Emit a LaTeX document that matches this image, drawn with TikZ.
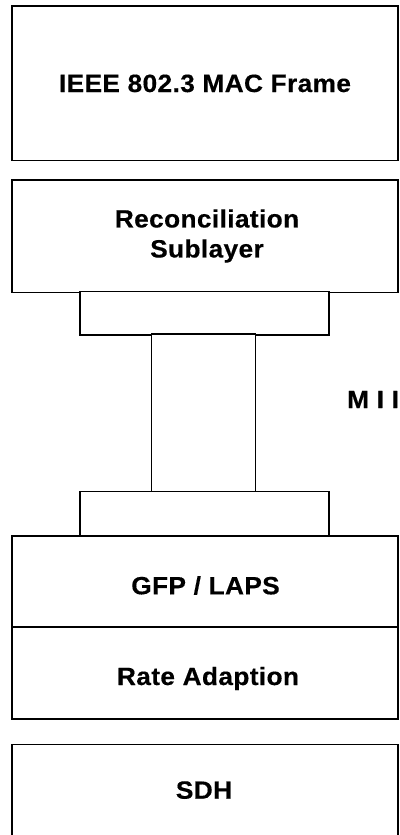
\documentclass[tikz,border=0pt]{standalone}
\usepackage{fontspec}
\newfontfamily\labfont[FakeStretch=1.05,LetterSpace=1.5,FakeBold=0.4]{Liberation Sans}
\begin{document}
\begin{tikzpicture}[x=1pt,y=-1pt,
  lbl/.style={font=\labfont\bfseries\fontsize{25}{30}\selectfont, inner sep=0pt, text=black},
  layer/.style={draw=black, line width=1.3pt},
  plug/.style={draw=black, line width=1.3pt, fill=white}]
\useasboundingbox (0,0) rectangle (399,835);
% layer boxes
\draw[layer] (12,6) rectangle (398,160.5);
\draw[layer] (12,180) rectangle (398,292.7);
\draw[layer] (12,536) rectangle (398,627);
\draw[layer] (12,627) rectangle (398,719);
\draw[layer] (12,835) -- (12,744.3) -- (398,744.3) -- (398,835);
% MII connector
\draw[plug] (80,291.7) rectangle (329,335);
\draw[plug] (151.7,334) rectangle (255.7,491.7);
\draw[plug] (80,491.7) rectangle (329,535.5);
% labels
\node[lbl, anchor=base] (mac) at (205,92) {IEEE 802.3 MAC Frame};
\node[lbl, align=center] (rs) at (207,236) {Reconciliation\\Sublayer};
\node[lbl, anchor=base] (gfp) at (205.5,594.3) {GFP / LAPS};
\node[lbl, anchor=base] (rate) at (208,685) {Rate Adaption};
\node[lbl, anchor=base] (sdh) at (204,798.7) {SDH};
\node[lbl, anchor=base west] (mii) at (347,408) {M I I};
\end{tikzpicture}
\end{document}
